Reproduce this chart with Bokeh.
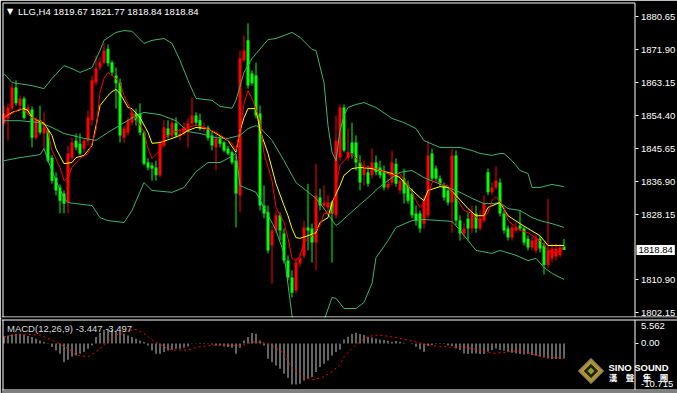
import numpy as np
from bokeh.plotting import figure
from bokeh.models import (Range1d, LinearAxis, FixedTicker, PrintfTickFormatter,
                          Label, ColumnDataSource)
from bokeh.layouts import column
from bokeh.embed import file_html
from bokeh.resources import INLINE

# ---------------- data ----------------
title_text = "LLG,H4  1819.67 1821.77 1818.84 1818.84"
macd_text = "MACD(12,26,9) -3.447 -3.497"
last_price = 1818.84
price_ticks = [1880.65, 1871.90, 1863.15, 1854.40, 1845.65, 1836.90, 1828.15, 1810.90, 1802.15]
macd_top, macd_bottom = 5.562, -10.715

opens = [1852.4, 1853.7, 1856.3, 1861.9, 1857.1, 1859.0, 1855.3, 1856.1, 1848.6, 1853.2,
         1849.7, 1850.5, 1843.3, 1838.0, 1835.4, 1833.8, 1831.4, 1843.3, 1847.8, 1847.0,
         1845.7, 1847.8, 1853.2, 1863.2, 1867.2, 1868.5, 1872.2, 1868.5, 1865.1, 1863.2,
         1848.6, 1850.0, 1852.6, 1855.0, 1855.0, 1850.0, 1842.0, 1841.2, 1840.7, 1838.6,
         1846.5, 1851.0, 1849.2, 1852.4, 1849.2, 1849.7, 1850.5, 1852.4, 1854.5, 1853.2,
         1851.0, 1851.3, 1849.2, 1846.0, 1848.4, 1847.3, 1845.7, 1844.7, 1842.5, 1833.3,
         1869.1, 1874.4, 1865.6, 1865.1, 1855.0, 1830.6, 1828.8, 1820.0, 1824.0, 1828.0,
         1823.2, 1816.0, 1811.5, 1808.1, 1815.2, 1817.3, 1824.8, 1824.5, 1820.8, 1832.7,
         1830.6, 1830.1, 1831.4, 1828.0, 1843.3, 1856.6, 1843.3, 1847.3, 1847.3, 1842.0,
         1838.6, 1839.4, 1838.6, 1842.0, 1840.7, 1839.4, 1835.4, 1836.7, 1841.7, 1834.6,
         1837.8, 1835.9, 1833.8, 1828.5, 1828.5, 1825.8, 1828.0, 1844.4, 1840.4, 1837.8,
         1835.9, 1834.6, 1831.4, 1843.9, 1826.6, 1823.2, 1827.1, 1824.5, 1828.5, 1824.5,
         1826.6, 1839.4, 1834.1, 1835.4, 1836.7, 1828.5, 1824.5, 1822.1, 1824.0, 1825.3,
         1824.5, 1821.8, 1819.5, 1818.7, 1821.8, 1820.0, 1814.8, 1816.6, 1817.1, 1817.4,
         1819.67]
highs = [1857.1, 1857.7, 1863.0, 1863.8, 1859.8, 1859.5, 1857.4, 1856.9, 1854.0, 1857.1,
         1855.3, 1851.0, 1844.0, 1839.4, 1836.2, 1834.6, 1846.5, 1848.6, 1849.7, 1849.7,
         1848.4, 1855.8, 1865.1, 1870.4, 1869.9, 1873.6, 1873.3, 1869.1, 1867.2, 1864.3,
         1851.8, 1854.0, 1855.8, 1856.3, 1857.7, 1850.5, 1843.1, 1842.0, 1842.5, 1847.8,
         1853.2, 1853.2, 1853.7, 1854.0, 1851.0, 1852.6, 1853.7, 1859.2, 1855.3, 1855.0,
         1852.6, 1851.8, 1850.2, 1849.2, 1849.2, 1847.8, 1846.5, 1845.2, 1843.9, 1871.7,
         1875.7, 1878.9, 1866.4, 1868.5, 1857.1, 1835.9, 1830.6, 1825.3, 1829.3, 1828.8,
         1824.5, 1817.4, 1813.4, 1816.6, 1817.9, 1826.6, 1836.4, 1825.8, 1841.7, 1835.1,
         1835.9, 1833.3, 1831.9, 1854.5, 1857.4, 1857.4, 1851.0, 1852.6, 1849.2, 1843.9,
         1842.5, 1841.2, 1845.7, 1843.9, 1842.5, 1841.2, 1837.8, 1845.2, 1843.1, 1838.6,
         1840.4, 1837.2, 1835.1, 1830.6, 1829.3, 1833.3, 1847.8, 1845.7, 1841.2, 1838.6,
         1836.7, 1835.4, 1845.7, 1845.2, 1828.0, 1826.1, 1828.8, 1830.6, 1830.6, 1829.3,
         1833.3, 1840.4, 1836.7, 1840.9, 1837.8, 1829.3, 1825.3, 1825.6, 1826.1, 1829.3,
         1825.0, 1822.6, 1822.4, 1822.9, 1822.6, 1820.8, 1832.4, 1820.3, 1820.5, 1820.3,
         1821.77]
lows = [1851.8, 1847.8, 1855.8, 1857.1, 1856.3, 1853.4, 1854.5, 1846.0, 1848.1, 1849.4,
        1845.7, 1842.0, 1836.4, 1833.3, 1828.5, 1828.5, 1828.5, 1842.5, 1845.2, 1843.9,
        1844.7, 1846.5, 1851.8, 1862.5, 1866.4, 1868.0, 1867.5, 1865.1, 1856.3, 1847.3,
        1847.3, 1849.2, 1851.8, 1851.8, 1849.2, 1841.2, 1839.9, 1837.2, 1837.2, 1838.0,
        1846.0, 1848.4, 1848.6, 1848.6, 1847.8, 1849.2, 1846.0, 1851.8, 1851.8, 1850.5,
        1850.0, 1847.8, 1845.2, 1839.9, 1846.0, 1844.7, 1843.9, 1841.5, 1824.8, 1828.8,
        1868.5, 1861.6, 1862.4, 1853.7, 1829.3, 1827.2, 1817.9, 1809.9, 1823.2, 1821.3,
        1815.2, 1810.7, 1806.2, 1807.3, 1814.4, 1816.6, 1818.7, 1815.5, 1813.4, 1829.3,
        1829.3, 1828.0, 1815.5, 1827.2, 1842.5, 1844.7, 1842.5, 1843.1, 1839.9, 1834.6,
        1835.9, 1835.6, 1837.8, 1838.6, 1837.8, 1834.6, 1834.8, 1835.9, 1835.6, 1833.8,
        1831.1, 1831.1, 1827.2, 1825.3, 1823.4, 1824.5, 1827.2, 1837.2, 1837.2, 1835.6,
        1831.9, 1830.6, 1823.4, 1825.3, 1821.3, 1821.8, 1821.3, 1823.4, 1823.4, 1824.0,
        1826.1, 1833.3, 1833.3, 1834.8, 1827.7, 1823.2, 1821.3, 1821.3, 1823.4, 1824.0,
        1820.0, 1818.7, 1818.7, 1817.9, 1818.1, 1812.3, 1814.0, 1815.5, 1816.0, 1816.9,
        1818.84]
closes = [1855.0, 1856.6, 1861.9, 1857.7, 1859.0, 1853.9, 1856.6, 1848.6, 1853.2, 1850.0,
          1851.3, 1842.5, 1837.2, 1834.6, 1831.9, 1831.1, 1844.4, 1847.3, 1846.0, 1844.4,
          1847.8, 1853.9, 1863.8, 1866.9, 1868.5, 1871.7, 1868.3, 1865.9, 1863.0, 1849.2,
          1851.0, 1853.2, 1855.3, 1853.2, 1850.0, 1841.7, 1840.7, 1840.4, 1838.6, 1847.0,
          1851.3, 1849.2, 1852.4, 1849.2, 1849.7, 1851.3, 1852.4, 1854.5, 1852.6, 1851.0,
          1851.3, 1848.6, 1846.5, 1848.4, 1847.0, 1845.2, 1844.4, 1842.0, 1833.8, 1869.6,
          1871.7, 1862.4, 1863.0, 1854.5, 1830.6, 1828.5, 1818.7, 1824.0, 1828.0, 1824.0,
          1816.0, 1811.5, 1807.5, 1815.5, 1816.6, 1824.8, 1824.0, 1820.8, 1833.3, 1830.6,
          1831.4, 1831.4, 1828.5, 1847.8, 1856.6, 1845.2, 1844.7, 1844.4, 1842.0, 1836.7,
          1840.4, 1836.4, 1842.0, 1839.4, 1838.6, 1835.4, 1836.4, 1842.0, 1836.4, 1837.2,
          1833.8, 1831.9, 1828.0, 1826.6, 1824.5, 1831.9, 1843.9, 1837.8, 1837.8, 1836.4,
          1832.7, 1831.4, 1843.9, 1826.6, 1823.2, 1824.5, 1824.5, 1828.5, 1824.5, 1827.1,
          1831.1, 1834.1, 1835.4, 1837.2, 1828.5, 1824.0, 1822.1, 1824.8, 1824.8, 1824.5,
          1820.8, 1819.5, 1821.3, 1821.8, 1819.2, 1814.8, 1818.7, 1819.2, 1819.2, 1819.5,
          1818.84]

# Bollinger bands (read as sample points: bar index, price)
bb_up_idx = [0, 2, 7, 10, 12, 15, 17, 19, 22, 24, 25, 28, 30, 32, 35, 37, 40, 42, 44, 46,
             48, 52, 54, 57, 58, 60, 62, 66, 68, 72, 74, 77, 78, 80, 81, 82, 83, 84, 85, 86,
             88, 90, 93, 97, 100, 103, 105, 109, 114, 117, 119, 122, 124, 125, 127, 129, 131,
             132, 134, 137, 140]
bb_up = [1865.6, 1863.2, 1862.4, 1861.6, 1864.3, 1867.7, 1866.9, 1865.9, 1867.2, 1871.7,
         1874.4, 1876.5, 1877.0, 1876.8, 1873.6, 1874.4, 1874.9, 1873.6, 1869.1, 1863.8,
         1859.0, 1858.5, 1856.9, 1856.4, 1858.5, 1865.9, 1869.6, 1874.6, 1874.9, 1876.5,
         1875.2, 1872.0, 1871.7, 1863.2, 1851.8, 1844.7, 1842.5, 1850.5, 1854.5, 1856.6,
         1857.4, 1857.9, 1856.6, 1853.7, 1852.6, 1851.0, 1847.8, 1846.0, 1846.0, 1845.2,
         1844.4, 1843.9, 1844.4, 1844.4, 1842.5, 1839.9, 1839.1, 1835.4, 1835.4, 1836.2,
         1835.6]
bb_mid_idx = [0, 4, 9, 12, 15, 17, 20, 23, 26, 29, 33, 35, 39, 43, 46, 49, 53, 56, 59, 61,
              63, 64, 67, 70, 73, 78, 80, 83, 84, 87, 91, 94, 97, 99, 102, 105, 108, 111, 114,
              117, 120, 122, 124, 126, 129, 132, 134, 137, 140]
bb_mid = [1853.1, 1853.1, 1852.6, 1851.3, 1849.7, 1849.2, 1848.4, 1847.9, 1850.0, 1851.9,
          1854.5, 1855.3, 1854.7, 1853.1, 1850.2, 1849.7, 1848.6, 1848.4, 1849.2, 1851.0,
          1851.8, 1851.3, 1847.9, 1842.5, 1836.7, 1832.5, 1829.8, 1825.3, 1826.1, 1829.0,
          1832.7, 1835.6, 1838.0, 1839.4, 1839.9, 1838.0, 1836.7, 1835.4, 1834.1, 1832.5,
          1831.1, 1831.1, 1831.4, 1829.8, 1829.3, 1827.4, 1826.6, 1825.8, 1824.8]
bb_low_idx = [0, 4, 9, 10, 11, 13, 15, 16, 18, 22, 24, 26, 30, 32, 35, 37, 40, 42, 45, 48,
              51, 54, 56, 58, 59, 63, 65, 68, 70, 72, 74, 78, 80, 82, 83, 85, 88, 90, 92, 93,
              96, 98, 102, 105, 112, 114, 118, 122, 124, 128, 131, 133, 135, 137, 140]
bb_low = [1842.5, 1843.3, 1844.1, 1845.7, 1842.5, 1837.2, 1832.5, 1831.4, 1831.1, 1830.6,
          1827.4, 1826.6, 1826.1, 1829.3, 1836.7, 1834.6, 1834.3, 1834.1, 1835.4, 1839.6,
          1842.0, 1842.0, 1843.1, 1844.4, 1835.9, 1834.1, 1830.1, 1824.0, 1817.9, 1801.4,
          1794.8, 1793.5, 1800.1, 1806.2, 1806.0, 1803.3, 1803.3, 1804.9, 1810.0, 1816.8,
          1821.3, 1824.8, 1826.6, 1826.9, 1826.4, 1824.0, 1818.7, 1817.9, 1818.7, 1817.4,
          1816.0, 1816.6, 1814.2, 1812.6, 1811.0]

# moving averages (yellow = slow, red = fast), sample points
ma_slow_idx = [0, 2, 5, 6, 7, 10, 12, 13, 15, 17, 18, 20, 22, 23, 24, 26, 27, 28, 29, 30,
               31, 32, 34, 36, 37, 39, 42, 44, 46, 48, 51, 53, 56, 58, 59, 60, 61, 63, 64, 66,
               68, 70, 71, 72, 73, 74, 76, 78, 79, 81, 82, 84, 85, 87, 89, 92, 94, 97, 99, 100,
               104, 105, 106, 109, 111, 113, 116, 118, 120, 121, 124, 126, 129, 131, 134, 136,
               138, 140]
ma_slow = [1853.9, 1855.3, 1856.3, 1855.8, 1853.9, 1852.4, 1849.2, 1845.7, 1841.7, 1842.0,
           1843.3, 1843.9, 1846.5, 1851.8, 1857.1, 1859.8, 1860.8, 1861.4, 1860.3, 1858.5,
           1856.6, 1856.3, 1853.9, 1850.0, 1847.1, 1847.3, 1848.4, 1849.2, 1850.5, 1851.3,
           1851.0, 1849.7, 1847.8, 1844.7, 1850.5, 1853.9, 1856.3, 1856.3, 1850.5, 1844.4,
           1836.4, 1830.6, 1827.9, 1824.5, 1822.1, 1821.9, 1822.6, 1823.4, 1826.1, 1827.4,
           1831.4, 1835.9, 1838.6, 1840.4, 1840.7, 1840.4, 1839.9, 1839.1, 1838.0, 1836.7,
           1832.7, 1831.9, 1834.6, 1835.6, 1835.4, 1833.3, 1829.8, 1827.9, 1827.9, 1830.1,
           1831.4, 1827.9, 1825.8, 1824.5, 1822.6, 1820.0, 1820.0, 1820.0]
ma_fast_idx = [0, 2, 4, 5, 7, 9, 11, 12, 14, 15, 16, 17, 19, 21, 22, 23, 24, 25, 26, 27,
               29, 30, 32, 33, 35, 36, 37, 39, 40, 42, 44, 46, 48, 50, 53, 55, 57, 58, 59, 60,
               61, 62, 64, 65, 67, 68, 70, 71, 72, 73, 74, 75, 77, 79, 80, 82, 83, 84, 85, 87,
               89, 90, 92, 94, 97, 99, 101, 103, 104, 106, 107, 108, 110, 111, 113, 115, 117,
               119, 121, 122, 123, 125, 126, 129, 131, 134, 136, 138, 139, 140]
ma_fast = [1853.9, 1855.0, 1856.3, 1855.8, 1853.9, 1853.1, 1850.0, 1845.2, 1840.7, 1837.2,
           1838.0, 1840.7, 1843.1, 1844.4, 1847.1, 1850.5, 1860.6, 1864.3, 1865.9, 1865.1,
           1863.2, 1859.8, 1855.3, 1853.7, 1850.0, 1845.7, 1843.1, 1845.2, 1848.4, 1850.0,
           1850.5, 1851.3, 1851.9, 1851.3, 1850.0, 1848.6, 1847.1, 1845.2, 1850.5, 1857.7,
           1861.1, 1859.0, 1853.1, 1844.4, 1837.2, 1830.1, 1826.1, 1821.9, 1816.6, 1816.0,
           1817.3, 1820.8, 1822.6, 1825.3, 1828.5, 1828.5, 1835.9, 1841.2, 1842.5, 1844.4,
           1842.0, 1840.7, 1840.7, 1839.9, 1838.6, 1839.1, 1835.9, 1831.9, 1830.1, 1832.7,
           1836.7, 1837.2, 1835.9, 1835.9, 1832.7, 1829.3, 1828.5, 1826.6, 1828.7, 1831.9,
           1833.0, 1830.1, 1826.6, 1824.0, 1823.4, 1821.3, 1818.7, 1817.9, 1818.7, 1819.5]

# MACD main (histogram), one value per bar
macd_hist = [1.63, 1.86, 2.09, 2.25, 2.25, 2.02, 1.71, 1.47, 1.09, 0.70,
             0.31, 0.08, -0.85, -1.63, -2.40, -4.34, -3.80, -3.02, -2.79, -2.40,
             -2.02, -1.24, -0.47, 1.47, 2.40, 3.18, 3.41, 3.18, 3.02, 2.64,
             2.25, 1.86, 1.47, 1.09, 0.70, 0.31, -0.47, -1.63, -2.40, -2.40,
             -2.02, -1.63, -1.47, -1.24, -1.24, -1.01, -0.70, -0.08, 0.05, 0.08,
             0.08, -0.08, -0.23, -0.47, -0.47, -0.70, -0.85, -1.01, -2.40, -1.01,
             0.70, 1.47, 2.40, 2.25, 0.70, -0.47, -3.57, -4.34, -5.12, -5.89,
             -7.05, -7.98, -9.53, -9.53, -9.38, -8.60, -8.22, -7.83, -6.67, -5.50,
             -4.73, -3.95, -2.79, -2.02, -1.40, 0.93, 1.55, 2.17, 2.48, 2.17,
             1.94, 1.55, 1.40, 1.16, 0.93, 0.78, 0.62, 0.39, 0.54, 0.39,
             0.16, 0.00, -0.16, -0.78, -1.40, -1.94, -0.62, -0.39, -0.16, -0.16,
             -0.16, -0.47, -0.62, -1.16, -1.55, -2.33, -2.48, -2.33, -2.33, -2.48,
             -2.48, -1.94, -1.55, -1.16, -1.55, -1.71, -1.94, -2.17, -2.33, -2.48,
             -2.56, -2.48, -2.71, -2.87, -3.10, -3.26, -3.49, -3.64, -3.64, -3.64,
             -3.447]
# MACD signal line (sample points)
sig_idx = [0, 4, 9, 12, 14, 16, 18, 21, 23, 26, 28, 31, 33, 35, 37, 40, 42, 46, 48, 52,
           56, 59, 62, 65, 67, 70, 72, 75, 77, 80, 82, 84, 85, 87, 89, 91, 93, 95, 98, 100,
           103, 105, 108, 112, 115, 118, 122, 125, 128, 130, 133, 137, 140]
sig_val = [1.55, 2.17, 1.94, 0.78, -0.16, -1.16, -2.71, -3.10, -1.94, 0.39, 1.94, 2.94,
           3.26, 2.33, 0.78, -0.78, -1.55, -1.55, -0.93, -0.39, -0.39, -0.62, 0.39, 0.16,
           -0.39, -2.33, -5.81, -7.75, -8.53, -7.75, -6.59, -4.95, -3.10, -1.16, 0.39, 1.55,
           1.94, 1.78, 1.40, 0.93, 0.39, -0.16, -0.62, -0.93, -0.78, -1.40, -2.33, -2.09,
           -1.71, -1.94, -2.71, -3.26, -3.497]

# ---------------- geometry / styling ----------------
BG = "#000000"
FONT = "Liberation Sans"
FS = "9.5px"
UP_COL, DN_COL = "#FF0000", "#00FF00"
BAND_COL = "#3CB371"

W = 677
MAIN_H, MACD_H = 318, 75
PX_PER_BAR = 4.0
X0 = -0.625                       # frame starts at canvas x=1, bar 0 centred at x=3.5
X1 = X0 + (W - 1) / PX_PER_BAR
PPU = 3.771                       # pixels per price unit (main panel)
P_TOP = 1880.65 + (16.3 - 1) / PPU
P_BOT = P_TOP - (MAIN_H - 2) / PPU
MPU = 16.277 / 70.0               # MACD units per pixel
M_TOP = macd_top + 1 * MPU
M_BOT = M_TOP - MACD_H * MPU


def bx(px):          # canvas x pixel -> bar index coordinate
    return X0 + (px - 1) / PX_PER_BAR


def py_main(py):     # canvas y pixel -> price
    return P_TOP - (py - 1) / PPU


def py_macd(py):     # canvas y pixel (whole page) -> MACD value
    return M_TOP - (py - MAIN_H) * MPU


def wline(fig, xs, ys):
    fig.line(xs, ys, line_color="white", line_width=1)


def style_axis(a):
    a.axis_line_color = None
    a.major_tick_line_color = "white"
    a.major_tick_in = 0
    a.major_tick_out = 3
    a.minor_tick_line_color = None
    a.major_label_text_color = "white"
    a.major_label_text_font = FONT
    a.major_label_text_font_size = FS
    a.major_label_standoff = 3


def blank_outline(fig):
    fig.outline_line_color = BG
    fig.outline_line_alpha = 1.0
    fig.outline_line_width = 1


idx = list(range(len(closes)))

# ---------------- main (price) panel ----------------
p = figure(width=W, height=MAIN_H, x_range=Range1d(X0, X1), y_range=Range1d(P_BOT, P_TOP),
           x_axis_type=None, y_axis_type=None,
           output_backend="svg", toolbar_location=None,
           background_fill_color=BG, border_fill_color=BG,
           min_border_left=1, min_border_right=0, min_border_top=1, min_border_bottom=1)
blank_outline(p)

colors = [UP_COL if c > o else DN_COL for o, c in zip(opens, closes)]
src = ColumnDataSource(dict(
    x=idx, h=highs, l=lows,
    top=[max(o, c) for o, c in zip(opens, closes)],
    bottom=[min(o, c) for o, c in zip(opens, closes)],
    color=colors))
p.segment(x0="x", y0="l", x1="x", y1="h", line_color="color", line_width=1, source=src)
p.vbar(x="x", width=0.75, top="top", bottom="bottom", fill_color="color",
       line_color=None, source=src)

p.line(bb_up_idx, bb_up, line_color=BAND_COL, line_width=1)
p.line(bb_mid_idx, bb_mid, line_color=BAND_COL, line_width=1)
p.line(bb_low_idx, bb_low, line_color=BAND_COL, line_width=1)
p.line(ma_slow_idx, ma_slow, line_color="#FFFF00", line_width=1)
p.line(ma_fast_idx, ma_fast, line_color="#FF0000", line_width=1)

# panel border: left/top/right around the chart, bottom separator across the window
wline(p, [bx(2.5), bx(2.5), bx(634.5), bx(634.5)],
      [py_main(316.5), py_main(2.5), py_main(2.5), py_main(316.5)])
wline(p, [X0, X1], [py_main(316.5), py_main(316.5)])

ax = LinearAxis(ticker=FixedTicker(ticks=price_ticks),
                formatter=PrintfTickFormatter(format="%.2f"),
                fixed_location=bx(634.5))
style_axis(ax)
p.add_layout(ax, "right")

p.add_layout(Label(x=bx(9.5), y=py_main(10.5), text="▼", text_color="white",
                   text_font="DejaVu Sans", text_font_size="8px", text_align="center",
                   text_baseline="middle"))
p.add_layout(Label(x=bx(17.5), y=py_main(10.5), text=title_text, text_color="white",
                   text_font=FONT, text_font_size=FS, text_align="left",
                   text_baseline="middle"))
p.add_layout(Label(x=bx(636.0), y=last_price, text="%.2f" % last_price, text_color="black",
                   text_font=FONT, text_font_size=FS, text_align="left",
                   text_baseline="middle", background_fill_color="white", padding=2))

# ---------------- MACD panel ----------------
m = figure(width=W, height=MACD_H, x_range=p.x_range, y_range=Range1d(M_BOT, M_TOP),
           x_axis_type=None, y_axis_type=None,
           output_backend="svg", toolbar_location=None,
           background_fill_color=BG, border_fill_color=BG,
           min_border_left=1, min_border_right=0, min_border_top=0, min_border_bottom=0)
blank_outline(m)

m.vbar(x=idx, width=0.25, top=macd_hist, bottom=0, fill_color="#C8C8C8", line_color=None)
m.line(sig_idx, sig_val, line_color="#FF0000", line_width=1, line_dash="2 3")

for yy in (319.5, 389.5, 391.5):
    wline(m, [X0, X1], [py_macd(yy), py_macd(yy)])
for xx in (2.5, 634.5):
    wline(m, [bx(xx), bx(xx)], [py_macd(319.5), py_macd(389.5)])

mx = LinearAxis(ticker=FixedTicker(ticks=[0.0]), formatter=PrintfTickFormatter(format="%.2f"),
                fixed_location=bx(634.5))
style_axis(mx)
m.add_layout(mx, "right")

m.add_layout(Label(x=bx(640.5), y=py_macd(325.5), text="%.3f" % macd_top, text_color="white",
                   text_font=FONT, text_font_size=FS, text_align="left",
                   text_baseline="middle"))
m.add_layout(Label(x=bx(6.5), y=py_macd(327.5), text=macd_text, text_color="#D8D8D8",
                   text_font=FONT, text_font_size=FS, text_align="left",
                   text_baseline="middle"))

# logo (decoration)
for sz, fc, lc in [(18, "#A89048", "#6E6A5A"), (11, "#202010", "#D0B000"), (5, "#8AA030", None)]:
    m.scatter(x=[bx(590.5)], y=[py_macd(370.5)], marker="square", angle=np.pi / 4, size=sz,
              fill_color=fc, line_color=lc, line_width=1)
m.add_layout(Label(x=bx(638.0), y=py_macd(366.5), text="SINO SOUND", text_color="white",
                   text_font=FONT, text_font_size="9.5px", text_font_style="bold",
                   text_align="center", text_baseline="middle"))
m.add_layout(Label(x=bx(640.5), y=py_macd(383.0), text="%.3f" % macd_bottom, text_color="white",
                   text_font=FONT, text_font_size=FS, text_align="left",
                   text_baseline="middle"))
m.add_layout(Label(x=bx(638.0), y=py_macd(376.5), text="漢　聲　集　團", text_color="white",
                   text_font="Noto Sans CJK TC", text_font_size="8.5px", text_font_style="bold",
                   text_align="center", text_baseline="middle"))

layout = column(p, m, spacing=0)
open("out.html", "w").write(file_html(layout, INLINE))
